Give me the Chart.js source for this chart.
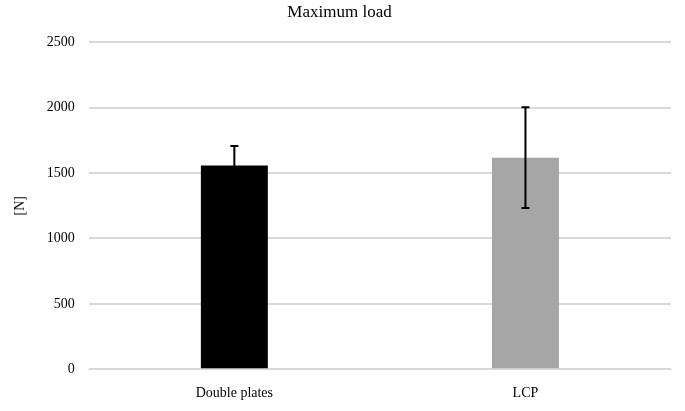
<!DOCTYPE html>
<html><head><meta charset="utf-8">
<script src="https://cdn.jsdelivr.net/npm/chart.js@4"></script>
<style>html,body{margin:0;padding:0;background:#fff}#w{width:685px;height:411px}</style>
</head><body><div id="w"><canvas id="c"></canvas></div>
<script>
const categories = ["Double plates", "LCP"];
const values = [1558, 1618];
const errors = [150, 385];
const barColors = ["#000000", "#a6a6a6"];
const yTicks = [0, 500, 1000, 1500, 2000, 2500];

const errPlugin = {
  id: 'err',
  afterDatasetsDraw(chart) {
    const ctx = chart.ctx, meta = chart.getDatasetMeta(0), y = chart.scales.y;
    ctx.save(); ctx.strokeStyle = '#000'; ctx.lineWidth = 2;
    meta.data.forEach((bar, i) => {
      const top = y.getPixelForValue(values[i] + errors[i]);
      const bot = y.getPixelForValue(values[i] - errors[i]);
      ctx.beginPath();
      ctx.moveTo(bar.x, top); ctx.lineTo(bar.x, bot);
      ctx.moveTo(bar.x - 4, top); ctx.lineTo(bar.x + 4, top);
      ctx.moveTo(bar.x - 4, bot); ctx.lineTo(bar.x + 4, bot);
      ctx.stroke();
    });
    ctx.restore();
  }
};

new Chart(document.getElementById('c'), {
  type: 'bar',
  data: { labels: categories, datasets: [{ data: values, backgroundColor: barColors, barPercentage: 0.23, categoryPercentage: 1 }] },
  options: {
    responsive: true, maintainAspectRatio: false, animation: false,
    layout: { padding: { left: 8, right: 14, top: 0, bottom: 1 } },
    plugins: {
      legend: { display: false }, tooltip: { enabled: false },
      title: { display: true, text: 'Maximum load', color: '#000', font: { family: 'Liberation Serif', size: 17, weight: 'normal' }, padding: { top: 2, bottom: 20 } }
    },
    scales: {
      x: { grid: { display: false }, border: { color: '#d9d9d9' },
           ticks: { color: '#000', padding: 8, font: { family: 'Liberation Serif', size: 14 } } },
      y: { min: 0, max: 2500, afterBuildTicks: a => { a.ticks = yTicks.map(v => ({ value: v })); },
           grid: { color: '#d9d9d9', lineWidth: 2, drawTicks: false }, border: { display: false },
           ticks: { color: '#000', padding: 14, callback: v => String(v), font: { family: 'Liberation Serif', size: 14 } },
           title: { display: true, text: '[N]', color: '#000', font: { family: 'Liberation Serif', size: 14 } } }
    }
  },
  plugins: [errPlugin]
});
</script></body></html>
